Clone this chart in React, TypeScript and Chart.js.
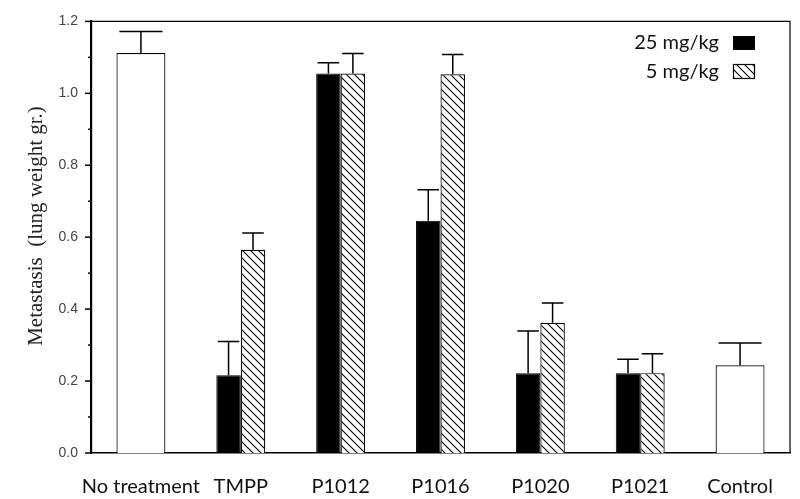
import React, { useEffect, useRef } from "react";
import { Chart, registerables } from "chart.js";

Chart.register(...registerables);

const categories = ["No treatment", "TMPP", "P1012", "P1016", "P1020", "P1021", "Control"];
const singleValues = [1.112, null, null, null, null, null, 0.244];
const singleErr = [0.06, null, null, null, null, null, 0.062];
const dose25Values = [null, 0.216, 1.055, 0.646, 0.222, 0.222, null];
const dose25Err = [null, 0.094, 0.03, 0.086, 0.117, 0.039, null];
const dose5Values = [null, 0.565, 1.055, 1.053, 0.362, 0.222, null];
const dose5Err = [null, 0.047, 0.056, 0.055, 0.055, 0.054, null];
const legendLabels = ["25 mg/kg", "5 mg/kg"];
const yTitle = "Metastasis  (lung weight gr.)";
const yTicks = [0, 0.2, 0.4, 0.6, 0.8, 1.0, 1.2];

function makeHatch(): CanvasPattern | string {
  const c = document.createElement("canvas");
  c.width = 8;
  c.height = 8;
  const ctx = c.getContext("2d");
  if (!ctx) return "#fff";
  ctx.fillStyle = "#fff";
  ctx.fillRect(0, 0, 8, 8);
  ctx.strokeStyle = "#000";
  ctx.lineWidth = 1.1;
  ctx.beginPath();
  ctx.moveTo(0, 0);
  ctx.lineTo(8, 8);
  ctx.moveTo(-2, 6);
  ctx.lineTo(2, 10);
  ctx.moveTo(6, -2);
  ctx.lineTo(10, 2);
  ctx.stroke();
  const p = ctx.createPattern(c, "repeat");
  return p || "#fff";
}

export default function App() {
  const ref = useRef<HTMLCanvasElement | null>(null);

  useEffect(() => {
    document.body.style.margin = "0";
    const canvas = ref.current;
    if (!canvas) return;
    const hatch = makeHatch();
    const errs = [singleErr, dose25Err, dose5Err];

    const decor = {
      id: "decor",
      afterDatasetsDraw(chart: any) {
        const ctx = chart.ctx;
        const ys = chart.scales.y;
        ctx.save();
        ctx.strokeStyle = "#000";
        ctx.lineWidth = 1.5;
        chart.data.datasets.forEach((ds: any, i: number) => {
          const meta = chart.getDatasetMeta(i);
          meta.data.forEach((el: any, j: number) => {
            const v = ds.data[j];
            const e = errs[i][j];
            if (v == null || e == null) return;
            const yTop = ys.getPixelForValue(v + e);
            const yBar = ys.getPixelForValue(v);
            const half = (el.width * 0.88) / 2;
            ctx.beginPath();
            ctx.moveTo(el.x, yBar);
            ctx.lineTo(el.x, yTop);
            ctx.moveTo(el.x - half, yTop);
            ctx.lineTo(el.x + half, yTop);
            ctx.stroke();
          });
        });
        ctx.restore();
      },
      afterDraw(chart: any) {
        const ctx = chart.ctx;
        const a = chart.chartArea;
        const ys = chart.scales.y;
        ctx.save();
        // frame top/right
        ctx.strokeStyle = "#000";
        ctx.lineWidth = 1.2;
        ctx.beginPath();
        ctx.moveTo(a.left, a.top);
        ctx.lineTo(a.right, a.top);
        ctx.lineTo(a.right, a.bottom);
        ctx.stroke();
        // y ticks
        ctx.lineWidth = 1.5;
        for (let k = 0; k <= 12; k++) {
          const y = ys.getPixelForValue(k / 10);
          const len = k % 2 === 0 ? 6 : 3;
          ctx.beginPath();
          ctx.moveTo(a.left - len, y);
          ctx.lineTo(a.left, y);
          ctx.stroke();
        }
        // legend
        ctx.font = '20px "Lato", "Open Sans", sans-serif';
        ctx.fillStyle = "#111";
        ctx.textAlign = "right";
        ctx.textBaseline = "middle";
        ctx.fillText(legendLabels[0], 719, 43);
        ctx.fillText(legendLabels[1], 719, 72);
        ctx.fillStyle = "#000";
        ctx.fillRect(733, 36, 22, 14);
        ctx.fillStyle = hatch as any;
        ctx.fillRect(733, 64, 22, 15);
        ctx.lineWidth = 1.2;
        ctx.strokeRect(733.5, 64.5, 21, 14);
        // y title
        ctx.translate(36, 226);
        ctx.rotate(-Math.PI / 2);
        ctx.font = '21px "Liberation Serif", "DejaVu Serif", serif';
        ctx.fillStyle = "#222";
        ctx.textAlign = "center";
        ctx.textBaseline = "middle";
        ctx.fillText(yTitle, 0, 0);
        ctx.restore();
      },
    };

    const chart = new Chart(canvas, {
      type: "bar",
      data: {
        labels: categories,
        datasets: [
          {
            label: "single",
            data: singleValues as any,
            backgroundColor: "#fff",
            borderColor: "#000",
            borderWidth: 1.2,
            skipNull: true,
          } as any,
          {
            label: legendLabels[0],
            data: dose25Values as any,
            backgroundColor: "#000",
            borderColor: "#000",
            borderWidth: 1,
            skipNull: true,
          } as any,
          {
            label: legendLabels[1],
            data: dose5Values as any,
            backgroundColor: hatch as any,
            borderColor: "#000",
            borderWidth: 1.2,
            skipNull: true,
          } as any,
        ],
      },
      options: {
        responsive: false,
        animation: false,
        events: [],
        datasets: { bar: { categoryPercentage: 0.49, barPercentage: 1.0 } },
        layout: { padding: { top: 13, right: 10, left: 0, bottom: 0 } },
        plugins: {
          legend: { display: false },
          tooltip: { enabled: false },
        },
        scales: {
          x: {
            grid: { display: false, drawTicks: false },
            border: { display: true, color: "#000", width: 1.5 },
            ticks: {
              color: "#111",
              font: { family: '"Lato", "Open Sans", sans-serif', size: 20 },
              padding: 22,
              maxRotation: 0,
              autoSkip: false,
            },
            afterFit: (s: any) => {
              s.height = 46;
            },
          },
          y: {
            min: 0,
            max: 1.2,
            afterBuildTicks: (s: any) => {
              s.ticks = yTicks.map((v) => ({ value: v }));
            },
            grid: { display: false, drawTicks: false },
            border: { display: true, color: "#000", width: 2.2 },
            ticks: {
              color: "#444",
              font: { family: '"Liberation Sans", Arial, sans-serif', size: 14 },
              padding: 13,
              callback: (v: any) => Number(v).toFixed(1),
            },
            afterFit: (s: any) => {
              s.width = 91;
            },
          },
        },
      } as any,
      plugins: [decor],
    });
    return () => chart.destroy();
  }, []);

  return (
    <div style={{ width: 800, height: 499 }}>
      <canvas ref={ref} width={800} height={499} style={{ display: "block" }} />
    </div>
  );
}
